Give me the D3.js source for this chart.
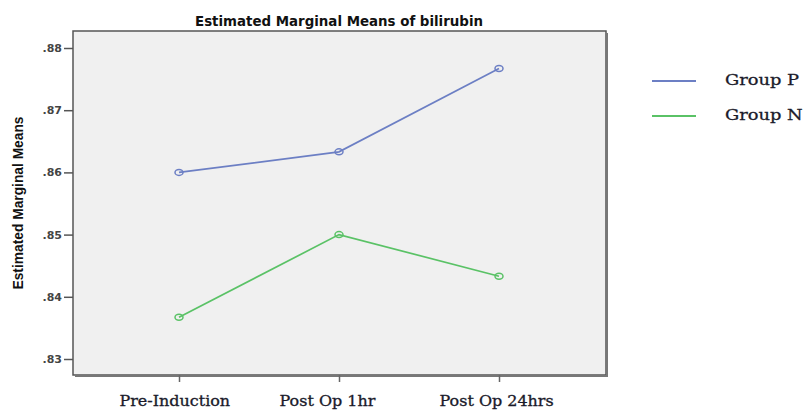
<!DOCTYPE html>
<html>
<head>
<meta charset="utf-8">
<script src="https://cdn.jsdelivr.net/npm/d3@7"></script>
<style>
  body { margin: 0; background: #fff; }
</style>
</head>
<body>
<svg id="chart"></svg>
<script>
"use strict";

// data
const categories = ["Pre-Induction", "Post Op 1hr", "Post Op 24hrs"];
const groupP = [0.8600, 0.8633, 0.8767];
const groupN = [0.8367, 0.8500, 0.8433];
const seriesNames = ["Group P", "Group N"];
const seriesColors = ["#6c7fc4", "#5ac266"];
const yTicks = [0.83, 0.84, 0.85, 0.86, 0.87, 0.88];

const width = 806;
const height = 410;
const plot = { left: 73, top: 31, right: 606, bottom: 375 };

const svg = d3.select("#chart")
    .attr("width", width)
    .attr("height", height);

// stretch a text horizontally (the source image is a little squashed/stretched)
function stretch(sel, k) {
    sel.each(function() {
        const w = this.getComputedTextLength();
        d3.select(this)
            .attr("textLength", w * k)
            .attr("lengthAdjust", "spacingAndGlyphs");
    });
}

// plot background
svg.append("rect")
    .attr("x", plot.left)
    .attr("y", plot.top)
    .attr("width", plot.right - plot.left)
    .attr("height", plot.bottom - plot.top)
    .attr("fill", "#f0f0f0")
    .attr("stroke", "#555")
    .attr("stroke-width", 1.5);

// darker shadow on right and bottom edge
svg.append("path")
    .attr("d", `M${plot.right + 1},${plot.top + 2}V${plot.bottom + 1}H${plot.left + 2}`)
    .attr("fill", "none")
    .attr("stroke", "#777")
    .attr("stroke-width", 2);

const x = d3.scalePoint()
    .domain(categories)
    .range([179, 499]);

const y = d3.scaleLinear()
    .domain([0.83, 0.88])
    .range([359, 48]);

// y axis
const yAxis = svg.append("g")
    .attr("transform", `translate(${plot.left},0)`)
    .call(d3.axisLeft(y).tickValues(yTicks).tickSize(9).tickFormat(d => d3.format(".2f")(d).replace(/^0/, "")))
    .call(g => g.select(".domain").remove());
yAxis.selectAll(".tick line").attr("stroke", "#555").attr("stroke-width", 1.5);
yAxis.selectAll(".tick text")
    .attr("font-family", "DejaVu Sans")
    .attr("font-weight", "bold")
    .style("font-size", "11px")
    .attr("fill", "#444")
    .attr("x", -11);

// x axis
const xAxis = svg.append("g")
    .attr("transform", `translate(0,${plot.bottom})`)
    .call(d3.axisBottom(x).tickSize(7).tickPadding(0))
    .call(g => g.select(".domain").remove());
xAxis.selectAll(".tick line").attr("stroke", "#666").attr("stroke-width", 1.5);
xAxis.selectAll(".tick text")
    .attr("dy", null)
    .attr("y", 31)
    .attr("x", -60)
    .attr("text-anchor", "start")
    .attr("font-family", "DejaVu Serif")
    .style("font-size", "14px")
    .attr("fill", "#1a1a2a")
    .attr("stroke", "#1a1a2a")
    .attr("stroke-width", 0.3)
    .call(stretch, 1.14);

// title
svg.append("text")
    .attr("x", 339)
    .attr("y", 26)
    .attr("text-anchor", "middle")
    .attr("font-family", "DejaVu Sans")
    .attr("font-weight", "bold")
    .style("font-size", "14.5px")
    .attr("fill", "#111")
    .attr("textLength", 288)
    .attr("lengthAdjust", "spacingAndGlyphs")
    .text("Estimated Marginal Means of bilirubin");

// y axis label
svg.append("text")
    .attr("transform", `translate(23,203) rotate(-90)`)
    .attr("text-anchor", "middle")
    .attr("font-family", "Liberation Sans")
    .attr("font-weight", "bold")
    .style("font-size", "15px")
    .attr("fill", "#111")
    .attr("textLength", 173)
    .attr("lengthAdjust", "spacingAndGlyphs")
    .text("Estimated Marginal Means");

// lines and markers
const line = d3.line()
    .x((d, i) => x(categories[i]))
    .y(d => y(d));

[groupP, groupN].forEach((values, s) => {
    svg.append("path")
        .attr("d", line(values))
        .attr("fill", "none")
        .attr("stroke", seriesColors[s])
        .attr("stroke-width", 1.7);

    svg.selectAll(null)
        .data(values)
        .join("ellipse")
        .attr("cx", (d, i) => x(categories[i]))
        .attr("cy", d => y(d))
        .attr("rx", 4)
        .attr("ry", 3)
        .attr("fill", "none")
        .attr("stroke", seriesColors[s])
        .attr("stroke-width", 1.5);
});

// legend
const legend = svg.append("g");
seriesNames.forEach((name, i) => {
    const ly = 81 + i * 35;
    legend.append("line")
        .attr("x1", 652)
        .attr("x2", 696)
        .attr("y1", ly)
        .attr("y2", ly)
        .attr("stroke", seriesColors[i])
        .attr("stroke-width", 2);
    legend.append("text")
        .attr("x", 725)
        .attr("y", ly + 4)
        .attr("font-family", "DejaVu Serif")
        .style("font-size", "15.5px")
        .attr("fill", "#1a1a2a")
        .attr("stroke", "#1a1a2a")
        .attr("stroke-width", 0.3)
        .text(name)
        .call(stretch, 1.15);
});
</script>
</body>
</html>
